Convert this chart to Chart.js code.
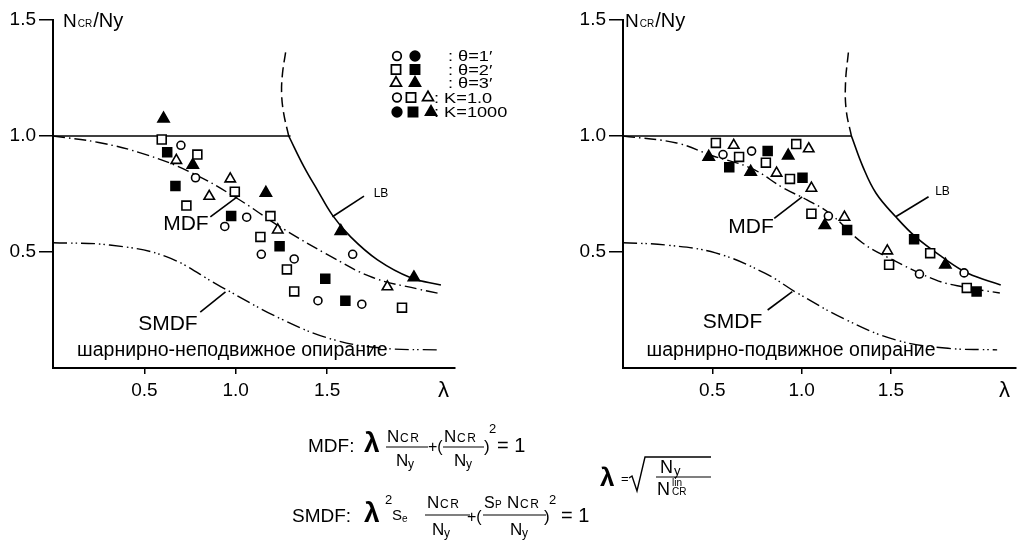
<!DOCTYPE html>
<html>
<head>
<meta charset="utf-8">
<script src="https://cdn.jsdelivr.net/npm/chart.js@4.4.0/dist/chart.umd.min.js"></script>
<style>
body { margin: 0; background: #fff; }
#wrap { position: relative; width: 1024px; height: 545px; overflow: hidden; }
canvas { position: absolute; top: 0; }
#chartL { left: 0; }
#chartR { left: 540px; }
svg { position: absolute; left: 0; top: 400px; font-family: 'Liberation Sans', Arial, sans-serif; }
</style>
</head>
<body>
<div id="wrap">
<canvas id="chartL" width="540" height="405"></canvas>
<canvas id="chartR" width="484" height="405"></canvas>
<svg width="1024" height="145" viewBox="0 400 1024 145">
  <!-- MDF -->
  <text x="308" y="452" font-size="19">MDF:</text>
  <text x="364" y="452" font-size="28" font-weight="bold">λ</text>
  <text x="387" y="442" font-size="17">N</text><text x="400" y="442" font-size="12" letter-spacing="1.5">CR</text>
  <line x1="386" y1="447" x2="428" y2="447" stroke="#000" stroke-width="1.2"/>
  <text x="396" y="466" font-size="17">N</text><text x="408" y="468" font-size="12">y</text>
  <text x="428" y="452" font-size="16">+(</text>
  <text x="444" y="442" font-size="17">N</text><text x="457" y="442" font-size="12" letter-spacing="1.5">CR</text>
  <line x1="443" y1="447" x2="484" y2="447" stroke="#000" stroke-width="1.2"/>
  <text x="454" y="466" font-size="17">N</text><text x="466" y="468" font-size="12">y</text>
  <text x="484" y="452" font-size="17">)</text>
  <text x="489" y="433" font-size="13">2</text>
  <text x="497" y="452" font-size="20">= 1</text>
  <!-- SMDF -->
  <text x="292" y="522" font-size="19">SMDF:</text>
  <text x="364" y="522" font-size="28" font-weight="bold">λ</text>
  <text x="385" y="504" font-size="13">2</text>
  <text x="392" y="520" font-size="15">S</text><text x="402" y="522" font-size="10">e</text>
  <text x="427" y="508" font-size="17">N</text><text x="440" y="508" font-size="12" letter-spacing="1.5">CR</text>
  <line x1="425" y1="515" x2="470" y2="515" stroke="#000" stroke-width="1.2"/>
  <text x="432" y="535" font-size="17">N</text><text x="444" y="537" font-size="12">y</text>
  <text x="467" y="522" font-size="16">+(</text>
  <text x="484" y="508" font-size="16">S</text><text x="495" y="508" font-size="10">P</text>
  <text x="507" y="508" font-size="17">N</text><text x="520" y="508" font-size="12" letter-spacing="1.5">CR</text>
  <line x1="483" y1="515" x2="546" y2="515" stroke="#000" stroke-width="1.2"/>
  <text x="510" y="535" font-size="17">N</text><text x="522" y="537" font-size="12">y</text>
  <text x="544" y="522" font-size="17">)</text>
  <text x="549" y="504" font-size="13">2</text>
  <text x="561" y="522" font-size="20">= 1</text>
  <!-- lambda definition -->
  <text x="600" y="486" font-size="26" font-weight="bold">λ</text>
  <text x="621" y="483" font-size="13">=</text>
  <polyline points="629,478 632,476 637,491 645,457 711,457" fill="none" stroke="#000" stroke-width="1.4"/>
  <text x="660" y="473" font-size="18">N</text><text x="674" y="475" font-size="13">y</text>
  <line x1="656" y1="477" x2="711" y2="477" stroke="#000" stroke-width="1.2"/>
  <text x="657" y="495" font-size="18">N</text>
  <text x="672" y="486" font-size="10">lin</text>
  <text x="672" y="495" font-size="10">CR</text>
</svg>
</div>
<script>
// tick labels
var xTicks = [0.5, 1.0, 1.5];
var yTicks = [0.5, 1.0, 1.5];

// left panel: шарнирно-неподвижное опирание, points [lambda, Ncr/Ny]
var leftOpenCircle = [[0.70, 0.96], [0.78, 0.82], [1.06, 0.65], [0.94, 0.61], [1.14, 0.49], [1.32, 0.47], [1.64, 0.49], [1.45, 0.29], [1.69, 0.275]];
var leftOpenSquare = [[0.595, 0.985], [0.79, 0.92], [0.995, 0.76], [0.73, 0.70], [1.19, 0.655], [1.135, 0.565], [1.28, 0.425], [1.32, 0.33], [1.91, 0.26]];
var leftFilledSquare = [[0.625, 0.93], [0.67, 0.785], [0.975, 0.655], [1.24, 0.525], [1.49, 0.385], [1.60, 0.29]];
var leftOpenTriangle = [[0.675, 0.895], [0.97, 0.815], [0.855, 0.74], [1.23, 0.595], [1.83, 0.35]];
var leftFilledTriangle = [[0.605, 1.075], [0.765, 0.875], [1.165, 0.755], [1.575, 0.59], [1.975, 0.39]];

var leftLimit = [[0, 1.0], [1.30, 1.0]];
var leftLBdashed = [[1.273, 1.36], [1.256, 1.27], [1.251, 1.185], [1.262, 1.10], [1.29, 1.0]];
var leftLB = [[1.29, 1.0], [1.373, 0.868], [1.447, 0.767], [1.529, 0.659], [1.629, 0.565], [1.776, 0.466], [1.958, 0.389], [2.123, 0.358]];
var leftMDF = [[0, 1.0], [0.25, 0.972], [0.5, 0.922], [0.75, 0.845], [1.0, 0.735], [1.25, 0.605], [1.5, 0.49], [1.75, 0.39], [2.0, 0.34], [2.11, 0.322]];
var leftSMDF = [[0, 0.54], [0.31, 0.53], [0.62, 0.48], [0.92, 0.35], [1.26, 0.207], [1.54, 0.121], [1.81, 0.085], [2.10, 0.078]];

// right panel: шарнирно-подвижное опирание
var rightOpenCircle = [[0.56, 0.92], [0.72, 0.935], [1.15, 0.655], [1.66, 0.405], [1.91, 0.41]];
var rightOpenSquare = [[0.52, 0.97], [0.65, 0.91], [0.80, 0.885], [0.97, 0.965], [0.935, 0.815], [1.055, 0.665], [1.49, 0.445], [1.72, 0.495], [1.925, 0.345]];
var rightFilledSquare = [[0.595, 0.865], [0.81, 0.935], [1.005, 0.82], [1.255, 0.595], [1.63, 0.555], [1.98, 0.33]];
var rightOpenTriangle = [[0.62, 0.96], [1.04, 0.945], [0.86, 0.84], [1.055, 0.775], [1.24, 0.65], [1.48, 0.505]];
var rightFilledTriangle = [[0.48, 0.91], [0.925, 0.915], [0.715, 0.845], [1.13, 0.615], [1.805, 0.445]];

var rightLimit = [[0, 1.0], [1.28, 1.0]];
var rightLBdashed = [[1.262, 1.36], [1.246, 1.23], [1.25, 1.11], [1.279, 1.0]];
var rightLB = [[1.279, 1.0], [1.343, 0.868], [1.417, 0.753], [1.527, 0.652], [1.637, 0.566], [1.784, 0.48], [1.931, 0.408], [2.115, 0.358]];
var rightMDF = [[0, 1.0], [0.3, 0.97], [0.5, 0.915], [0.72, 0.86], [0.9, 0.775], [1.03, 0.725], [1.16, 0.665], [1.34, 0.54], [1.5, 0.47], [1.75, 0.38], [1.9, 0.35], [2.11, 0.323]];
var rightSMDF = [[0, 0.54], [0.243, 0.53], [0.518, 0.496], [0.794, 0.409], [0.976, 0.323], [1.251, 0.207], [1.527, 0.121], [1.803, 0.086], [2.095, 0.078]];

var FONT = "'Liberation Sans', Arial, sans-serif";

function pts(a) {
    return a.map(function (p) { return { x: p[0], y: p[1] }; });
}

function marks(arr, style, filled, r) {
    return {
        data: pts(arr),
        showLine: false,
        pointStyle: style,
        pointRadius: r,
        pointHoverRadius: r,
        pointBackgroundColor: filled ? '#000' : '#fff',
        pointBorderColor: '#000',
        pointBorderWidth: 1.6,
        order: 0
    };
}

function curve(arr, dash, w) {
    return {
        data: pts(arr),
        showLine: true,
        borderColor: '#000',
        borderWidth: w || 1.4,
        borderDash: dash || [],
        pointRadius: 0,
        tension: 0.4,
        fill: false,
        order: 1
    };
}

// text labels, pointer lines, axis names, legend
var notesPlugin = {
    id: 'notes',
    afterDatasetsDraw: function (chart, args, opts) {
        var ctx = chart.ctx, xs = chart.scales.x, ys = chart.scales.y, a = chart.chartArea;
        ctx.save();
        ctx.fillStyle = '#000';
        ctx.strokeStyle = '#000';
        ctx.lineWidth = 1.6;
        ctx.setLineDash([]);
        opts.pointers.forEach(function (p) {
            ctx.beginPath();
            ctx.moveTo(xs.getPixelForValue(p[0]), ys.getPixelForValue(p[1]));
            ctx.lineTo(xs.getPixelForValue(p[2]), ys.getPixelForValue(p[3]));
            ctx.stroke();
        });
        ctx.textAlign = 'left';
        ctx.textBaseline = 'alphabetic';
        opts.labels.forEach(function (l) {
            ctx.font = l.size + 'px ' + FONT;
            ctx.fillText(l.text, xs.getPixelForValue(l.x), ys.getPixelForValue(l.y));
        });

        // y axis name N_CR/Ny
        var tx = a.left + opts.titleDx, ty = a.top + 7;
        ctx.font = '19px ' + FONT;
        ctx.fillText('N', tx, ty);
        tx += ctx.measureText('N').width + 1;
        ctx.font = '10px ' + FONT;
        ctx.fillText('CR', tx, ty);
        tx += ctx.measureText('CR').width + 1;
        ctx.font = '20px ' + FONT;
        ctx.fillText('/Ny', tx, ty);

        // x axis name
        ctx.font = '22px ' + FONT;
        ctx.fillText('λ', a.right - 17, a.bottom + 29);

        // legend
        if (opts.legend) {
            opts.legend.forEach(function (row) {
                row.marks.forEach(function (m) {
                    ctx.fillStyle = m[1] ? '#000' : '#fff';
                    ctx.strokeStyle = '#000';
                    ctx.lineWidth = 1.7;
                    Chart.helpers.drawPoint(ctx, { pointStyle: m[0], radius: m[2], borderWidth: 1.7, rotation: 0 }, m[3], row.y);
                });
                ctx.fillStyle = '#000';
                ctx.font = '14px ' + FONT;
                ctx.save();
                ctx.translate(row.tx, row.y + 5);
                ctx.scale(1.3, 1);
                ctx.fillText(row.text, 0, 0);
                ctx.restore();
            });
        }
        ctx.restore();
    }
};

function makeChart(id, sets, padding, notes) {
    return new Chart(document.getElementById(id), {
        type: 'scatter',
        data: { datasets: sets },
        options: {
            responsive: false,
            animation: false,
            events: [],
            layout: { padding: padding },
            plugins: {
                legend: { display: false },
                tooltip: { enabled: false },
                notes: notes
            },
            scales: {
                x: {
                    type: 'linear',
                    min: 0,
                    max: 2.2,
                    afterFit: function (axis) { axis.height = 37; },
                    afterBuildTicks: function (axis) {
                        axis.ticks = xTicks.map(function (v) { return { value: v }; });
                    },
                    grid: { drawOnChartArea: false, drawTicks: true, tickLength: 6, color: '#000', lineWidth: 1.5 },
                    border: { display: true, color: '#000', width: 2 },
                    ticks: {
                        color: '#000',
                        padding: 5,
                        font: { family: FONT, size: 19 },
                        callback: function (v) { return Number(v).toFixed(1); }
                    }
                },
                y: {
                    type: 'linear',
                    min: 0,
                    max: 1.5,
                    afterFit: function (axis) { axis.width = 53; },
                    afterBuildTicks: function (axis) {
                        axis.ticks = yTicks.map(function (v) { return { value: v }; });
                    },
                    grid: { drawOnChartArea: false, drawTicks: true, tickLength: 14, color: '#000', lineWidth: 1.5 },
                    border: { display: true, color: '#000', width: 2 },
                    ticks: {
                        color: '#000',
                        padding: 3,
                        font: { family: FONT, size: 19 },
                        callback: function (v) { return Number(v).toFixed(1); }
                    }
                }
            }
        },
        plugins: [notesPlugin]
    });
}

var MDF_DASH = [12, 4, 1.5, 4];
var SMDF_DASH = [14, 4, 1.5, 3, 1.5, 4];

makeChart('chartL', [
    marks(leftOpenCircle, 'circle', false, 4),
    marks(leftOpenSquare, 'rect', false, 6.3),
    marks(leftFilledSquare, 'rect', true, 6.3),
    marks(leftOpenTriangle, 'triangle', false, 6),
    marks(leftFilledTriangle, 'triangle', true, 6.5),
    curve(leftLimit, [], 1.6),
    curve(leftLBdashed, [10, 5], 1.5),
    curve(leftLB, [], 1.6),
    curve(leftMDF, MDF_DASH, 1.4),
    curve(leftSMDF, SMDF_DASH, 1.4)
], { left: 0, top: 20, right: 85, bottom: 0 }, {
    titleDx: 10,
    labels: [
        { text: 'MDF', x: 0.603, y: 0.595, size: 21 },
        { text: 'SMDF', x: 0.466, y: 0.164, size: 21 },
        { text: 'LB', x: 1.755, y: 0.737, size: 12 },
        { text: 'шарнирно-неподвижное опирание', x: 0.132, y: 0.052, size: 19.5 }
    ],
    pointers: [
        [0.861, 0.651, 1.008, 0.738],
        [0.806, 0.241, 0.944, 0.328],
        [1.529, 0.652, 1.702, 0.741]
    ],
    legend: [
        { y: 56, tx: 448, text: ': θ=1′', marks: [['circle', false, 4.3, 397], ['circle', true, 4.8, 415]] },
        { y: 69.5, tx: 448, text: ': θ=2′', marks: [['rect', false, 6.5, 396], ['rect', true, 6.5, 415]] },
        { y: 83, tx: 448, text: ': θ=3′', marks: [['triangle', false, 6.3, 396], ['triangle', true, 6.3, 415]] },
        { y: 97.5, tx: 434, text: ': K=1.0', marks: [['circle', false, 4.3, 397], ['rect', false, 6.5, 411], ['triangle', false, 6.3, 428]] },
        { y: 112, tx: 434, text: ': K=1000', marks: [['circle', true, 4.8, 397], ['rect', true, 6.5, 413], ['triangle', true, 6.3, 431]] }
    ]
});

makeChart('chartR', [
    marks(rightOpenCircle, 'circle', false, 4),
    marks(rightOpenSquare, 'rect', false, 6.3),
    marks(rightFilledSquare, 'rect', true, 6.3),
    marks(rightOpenTriangle, 'triangle', false, 6),
    marks(rightFilledTriangle, 'triangle', true, 6.5),
    curve(rightLimit, [], 1.6),
    curve(rightLBdashed, [10, 5], 1.5),
    curve(rightLB, [], 1.6),
    curve(rightMDF, MDF_DASH, 1.4),
    curve(rightSMDF, SMDF_DASH, 1.4)
], { left: 30, top: 20, right: 2, bottom: 0 }, {
    titleDx: 2,
    labels: [
        { text: 'MDF', x: 0.590, y: 0.582, size: 21 },
        { text: 'SMDF', x: 0.447, y: 0.172, size: 21 },
        { text: 'LB', x: 1.748, y: 0.746, size: 12 },
        { text: 'шарнирно-подвижное опирание', x: 0.132, y: 0.052, size: 19.5 }
    ],
    pointers: [
        [0.847, 0.645, 1.003, 0.738],
        [0.810, 0.250, 0.948, 0.329],
        [1.527, 0.652, 1.711, 0.738]
    ]
});
</script>
</body>
</html>
